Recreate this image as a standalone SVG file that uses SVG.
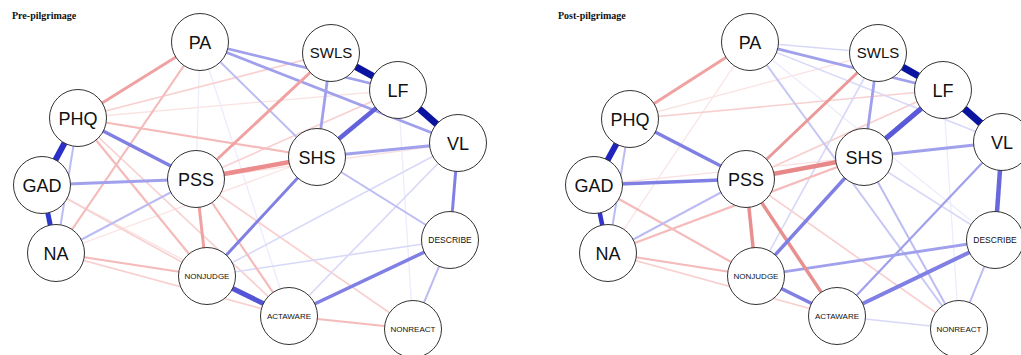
<svg xmlns="http://www.w3.org/2000/svg" width="1021" height="355" viewBox="0 0 1021 355">
<style>
.t{font-family:"Liberation Serif","Times New Roman",serif;font-weight:bold;font-size:10px;fill:#111}
line{stroke-linecap:butt;fill:none}
.bn{stroke:#0a14a0;stroke-width:7}
.bd{stroke:#2a30c8;stroke-width:6}
.bd2{stroke:#2c3acc;stroke-width:5}
.bm{stroke:#6262dc;stroke-width:4.5}
.bm2{stroke:#8080e4;stroke-width:3.5}
.bl{stroke:#a0a0ec;stroke-width:2.8}
.bl2{stroke:#bcbcf3;stroke-width:2}
.bf{stroke:#d8d8f8;stroke-width:1.6}
.bff{stroke:#ececfc;stroke-width:1.3}
.rm{stroke:#ec8c8c;stroke-width:4.5}
.r2{stroke:#f0a2a2;stroke-width:3}
.r3{stroke:#f5baba;stroke-width:2.2}
.r4{stroke:#f8d0d0;stroke-width:1.7}
.r5{stroke:#fbe2e2;stroke-width:1.3}
circle{fill:#fff;stroke:#333;stroke-width:1}
.L{font-family:"Liberation Sans",Arial,sans-serif;font-size:18px;fill:#111;text-anchor:middle}
.M{font-family:"Liberation Sans",Arial,sans-serif;font-size:15px;fill:#111;text-anchor:middle}
.S{font-family:"Liberation Sans",Arial,sans-serif;font-size:8px;fill:#111;text-anchor:middle}
</style>
<rect width="1021" height="355" fill="#fff"/>
<text class="t" x="12" y="19">Pre-pilgrimage</text>
<text class="t" x="558" y="19">Post-pilgrimage</text>

<g id="edges-pre">
<line class="r5" x1="78" y1="118" x2="398" y2="90"/>
<line class="r5" x1="196" y1="179" x2="458" y2="143"/>
<line class="r5" x1="42" y1="185" x2="289" y2="316"/>
<line class="r5" x1="56" y1="253" x2="317" y2="157"/>
<line class="bff" x1="398" y1="90" x2="413" y2="329"/>
<line class="bff" x1="200" y1="42" x2="196" y2="179"/>
<line class="bff" x1="200" y1="42" x2="289" y2="316"/>
<line class="r4" x1="42" y1="185" x2="207" y2="276"/>
<line class="r4" x1="78" y1="118" x2="331" y2="53"/>
<line class="r4" x1="196" y1="179" x2="398" y2="90"/>
<line class="r4" x1="196" y1="179" x2="413" y2="329"/>
<line class="r4" x1="56" y1="253" x2="289" y2="316"/>
<line class="r4" x1="78" y1="118" x2="289" y2="316"/>
<line class="bf" x1="207" y1="276" x2="450" y2="240"/>
<line class="bf" x1="207" y1="276" x2="458" y2="143"/>
<line class="bf" x1="289" y1="316" x2="458" y2="143"/>
<line class="r3" x1="78" y1="118" x2="317" y2="157"/>
<line class="r3" x1="78" y1="118" x2="207" y2="276"/>
<line class="r3" x1="56" y1="253" x2="207" y2="276"/>
<line class="r3" x1="196" y1="179" x2="289" y2="316"/>
<line class="r3" x1="200" y1="42" x2="56" y2="253"/>
<line class="r3" x1="289" y1="316" x2="413" y2="329"/>
<line class="bl2" x1="78" y1="118" x2="56" y2="253"/>
<line class="bl2" x1="56" y1="253" x2="196" y2="179"/>
<line class="bl2" x1="450" y1="240" x2="413" y2="329"/>
<line class="bl2" x1="317" y1="157" x2="450" y2="240"/>
<line class="bl2" x1="200" y1="42" x2="317" y2="157"/>
<line class="bl" x1="42" y1="185" x2="196" y2="179"/>
<line class="bl" x1="331" y1="53" x2="317" y2="157"/>
<line class="bl" x1="317" y1="157" x2="458" y2="143"/>
<line class="bl" x1="200" y1="42" x2="398" y2="90"/>
<line class="bl" x1="200" y1="42" x2="458" y2="143"/>
<line class="r2" x1="200" y1="42" x2="78" y2="118"/>
<line class="r2" x1="196" y1="179" x2="331" y2="53"/>
<line class="r2" x1="196" y1="179" x2="207" y2="276"/>
<line class="bm2" x1="78" y1="118" x2="196" y2="179"/>
<line class="bm2" x1="317" y1="157" x2="207" y2="276" style="stroke-width:3"/>
<line class="bm2" x1="289" y1="316" x2="450" y2="240"/>
<line class="bm2" x1="458" y1="143" x2="450" y2="240" style="stroke-width:3"/>
<line class="rm" x1="196" y1="179" x2="317" y2="157"/>
<line class="bm" x1="398" y1="90" x2="317" y2="157"/>
<line class="bm" x1="207" y1="276" x2="289" y2="316" style="stroke:#5454d6;stroke-width:5"/>
<line class="bd2" x1="42" y1="185" x2="56" y2="253"/>
<line class="bd" x1="42" y1="185" x2="78" y2="118"/>
<line class="bn" x1="331" y1="53" x2="398" y2="90"/>
<line class="bn" x1="398" y1="90" x2="458" y2="143"/>
</g>

<g id="edges-post">
<line class="r5" x1="594" y1="185" x2="864" y2="157"/>
<line class="r5" x1="630" y1="119" x2="878" y2="53"/>
<line class="r5" x1="750" y1="42" x2="608" y2="253"/>
<line class="bff" x1="943" y1="90" x2="959" y2="329"/>
<line class="bff" x1="750" y1="42" x2="995" y2="240"/>
<line class="r4" x1="630" y1="119" x2="943" y2="90"/>
<line class="r4" x1="746" y1="179" x2="943" y2="90"/>
<line class="r4" x1="746" y1="179" x2="959" y2="329"/>
<line class="r4" x1="608" y1="253" x2="837" y2="316"/>
<line class="bf" x1="750" y1="42" x2="878" y2="53"/>
<line class="bf" x1="750" y1="42" x2="1002" y2="142"/>
<line class="bf" x1="878" y1="53" x2="756" y2="276"/>
<line class="bf" x1="864" y1="157" x2="995" y2="240"/>
<line class="bf" x1="837" y1="316" x2="959" y2="329"/>
<line class="r3" x1="608" y1="253" x2="864" y2="157"/>
<line class="r3" x1="594" y1="185" x2="756" y2="276"/>
<line class="r3" x1="608" y1="253" x2="756" y2="276"/>
<line class="bl2" x1="630" y1="119" x2="608" y2="253"/>
<line class="bl2" x1="608" y1="253" x2="746" y2="179"/>
<line class="bl2" x1="995" y1="240" x2="959" y2="329"/>
<line class="bl2" x1="864" y1="157" x2="959" y2="329"/>
<line class="bl2" x1="750" y1="42" x2="959" y2="329" style="stroke:#c8c8f5"/>
<line class="bl" x1="878" y1="53" x2="864" y2="157"/>
<line class="bl" x1="864" y1="157" x2="1002" y2="142"/>
<line class="bl" x1="750" y1="42" x2="943" y2="90"/>
<line class="bl" x1="756" y1="276" x2="995" y2="240"/>
<line class="bl" x1="837" y1="316" x2="1002" y2="142" style="stroke-width:2.2"/>
<line class="r2" x1="750" y1="42" x2="630" y2="119"/>
<line class="r2" x1="746" y1="179" x2="878" y2="53" style="stroke:#ea9898"/>
<line class="r2" x1="746" y1="179" x2="756" y2="276" style="stroke:#e89090;stroke-width:3.5"/>
<line class="r2" x1="746" y1="179" x2="837" y2="316" style="stroke:#e89090;stroke-width:3.5"/>
<line class="bm2" x1="630" y1="119" x2="746" y2="179"/>
<line class="bm2" x1="594" y1="185" x2="746" y2="179"/>
<line class="bm2" x1="864" y1="157" x2="756" y2="276"/>
<line class="bm2" x1="756" y1="276" x2="837" y2="316"/>
<line class="bm2" x1="837" y1="316" x2="995" y2="240" style="stroke-width:4"/>
<line class="rm" x1="746" y1="179" x2="864" y2="157" style="stroke:#e88888"/>
<line class="bm" x1="1002" y1="142" x2="995" y2="240" style="stroke:#6868dc"/>
<line class="bm" x1="943" y1="90" x2="864" y2="157" style="stroke:#5a5ad8;stroke-width:5"/>
<line class="bd2" x1="594" y1="185" x2="608" y2="253" style="stroke:#3434cc;stroke-width:4.5"/>
<line class="bd" x1="594" y1="185" x2="630" y2="119" style="stroke:#2024bc"/>
<line class="bn" x1="878" y1="53" x2="943" y2="90"/>
<line class="bn" x1="943" y1="90" x2="1002" y2="142"/>
</g>

<g id="pre-PA"><circle cx="200" cy="42" r="28.5"/><text class="L" x="200" y="48.5">PA</text></g>
<g id="pre-SWLS"><circle cx="331" cy="53" r="28.5"/><text class="M" x="331" y="58.4">SWLS</text></g>
<g id="pre-LF"><circle cx="398" cy="90" r="28.5"/><text class="L" x="398" y="96.5">LF</text></g>
<g id="pre-VL"><circle cx="458" cy="143" r="28.5"/><text class="L" x="458" y="149.5">VL</text></g>
<g id="pre-SHS"><circle cx="317" cy="157" r="28.5"/><text class="L" x="317" y="163.5">SHS</text></g>
<g id="pre-PSS"><circle cx="196" cy="179" r="28.5"/><text class="L" x="196" y="185.5">PSS</text></g>
<g id="pre-PHQ"><circle cx="78" cy="118" r="28.5"/><text class="L" x="78" y="124.5">PHQ</text></g>
<g id="pre-GAD"><circle cx="42" cy="185" r="28.5"/><text class="L" x="42" y="191.5">GAD</text></g>
<g id="pre-NA"><circle cx="56" cy="253" r="28.5"/><text class="L" x="56" y="259.5">NA</text></g>
<g id="pre-NONJUDGE"><circle cx="207" cy="276" r="28.5"/><text class="S" x="207" y="278.9">NONJUDGE</text></g>
<g id="pre-ACTAWARE"><circle cx="289" cy="316" r="28.5"/><text class="S" x="289" y="318.9">ACTAWARE</text></g>
<g id="pre-NONREACT"><circle cx="413" cy="329" r="28.5"/><text class="S" x="413" y="331.9">NONREACT</text></g>
<g id="pre-DESCRIBE"><circle cx="450" cy="240" r="28.5"/><text class="S" x="450" y="243" style="font-size:8.5px">DESCRIBE</text></g>

<g id="post-PA"><circle cx="750" cy="42" r="28.5"/><text class="L" x="750" y="48.5">PA</text></g>
<g id="post-SWLS"><circle cx="878" cy="53" r="28.5"/><text class="M" x="878" y="58.4">SWLS</text></g>
<g id="post-LF"><circle cx="943" cy="90" r="28.5"/><text class="L" x="943" y="96.5">LF</text></g>
<g id="post-VL"><circle cx="1002" cy="142" r="28.5"/><text class="L" x="1002" y="148.5">VL</text></g>
<g id="post-SHS"><circle cx="864" cy="157" r="28.5"/><text class="L" x="864" y="163.5">SHS</text></g>
<g id="post-PSS"><circle cx="746" cy="179" r="28.5"/><text class="L" x="746" y="185.5">PSS</text></g>
<g id="post-PHQ"><circle cx="630" cy="119" r="28.5"/><text class="L" x="630" y="125.5">PHQ</text></g>
<g id="post-GAD"><circle cx="594" cy="185" r="28.5"/><text class="L" x="594" y="191.5">GAD</text></g>
<g id="post-NA"><circle cx="608" cy="253" r="28.5"/><text class="L" x="608" y="259.5">NA</text></g>
<g id="post-NONJUDGE"><circle cx="756" cy="276" r="28.5"/><text class="S" x="756" y="278.9">NONJUDGE</text></g>
<g id="post-ACTAWARE"><circle cx="837" cy="316" r="28.5"/><text class="S" x="837" y="318.9">ACTAWARE</text></g>
<g id="post-NONREACT"><circle cx="959" cy="329" r="28.5"/><text class="S" x="959" y="331.9">NONREACT</text></g>
<g id="post-DESCRIBE"><circle cx="995" cy="240" r="28.5"/><text class="S" x="995" y="243" style="font-size:8.5px">DESCRIBE</text></g>
</svg>
